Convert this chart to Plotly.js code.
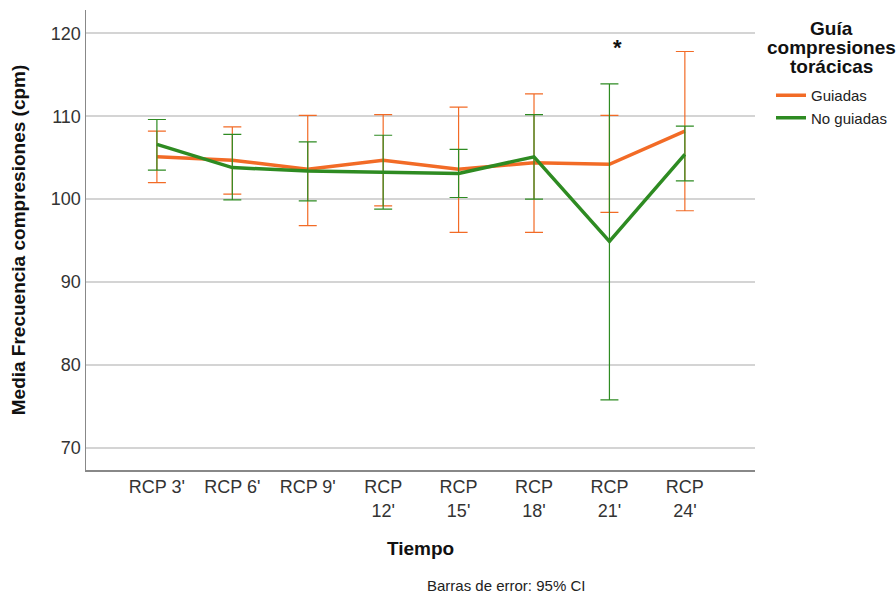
<!DOCTYPE html>
<html><head><meta charset="utf-8">
<script src="https://cdn.plot.ly/plotly-3.0.1.min.js"></script>
<style>body{margin:0;background:#fff}#c{width:896px;height:595px}</style>
</head><body><div id="c"></div>
<script>
const categories = ["RCP 3'", "RCP 6'", "RCP 9'", "RCP 12'", "RCP 15'", "RCP 18'", "RCP 21'", "RCP 24'"];
const tickLabels = ["RCP 3'", "RCP 6'", "RCP 9'", "RCP<br>12'", "RCP<br>15'", "RCP<br>18'", "RCP<br>21'", "RCP<br>24'"];
const guiadasMean  = [105.1, 104.7, 103.6, 104.7, 103.6, 104.4, 104.2, 108.2];
const guiadasUpper = [108.2, 108.7, 110.1, 110.2, 111.1, 112.7, 110.1, 117.8];
const guiadasLower = [102.0, 100.6, 96.8, 99.2, 96.0, 96.0, 98.4, 98.6];
const noGuiadasMean  = [106.6, 103.8, 103.4, 103.2, 103.1, 105.1, 94.9, 105.4];
const noGuiadasUpper = [109.6, 107.8, 106.9, 107.7, 106.0, 110.2, 113.9, 108.8];
const noGuiadasLower = [103.5, 99.9, 99.8, 98.8, 100.2, 100.0, 75.8, 102.2];
const yTicks = [70, 80, 90, 100, 110, 120];
const legendTitleLines = ['Guía', 'compresiones', 'torácicas'];

const orange = '#F26B26', green = '#2E8B22';
function trace(name, mean, up, lo, color) {
  return {
    type: 'scatter', mode: 'lines', name: name,
    x: categories, y: mean,
    line: {color: color, width: 3.5},
    error_y: {type: 'data', symmetric: false,
      array: mean.map((m, i) => up[i] - m),
      arrayminus: mean.map((m, i) => m - lo[i]),
      color: color, thickness: 1.2, width: 9}
  };
}
const data = [
  trace('Guiadas', guiadasMean, guiadasUpper, guiadasLower, orange),
  trace('No guiadas', noGuiadasMean, noGuiadasUpper, noGuiadasLower, green)
];
const font = 'Liberation Sans, Arial, sans-serif';
const W = 896, H = 595;
const L = 86, R = 755, T = 10, B = 470;
const px = x => (x - L) / (R - L);
const py = y => (B - y) / (B - T);

const annotations = [
  {x: 6, y: 118.3, xref: 'x', yref: 'y', text: '<b>*</b>', showarrow: false, xshift: 8,
   font: {size: 22, color: '#111'}},
  {x: px(506), y: py(585), xref: 'paper', yref: 'paper', xanchor: 'center', yanchor: 'middle',
   text: 'Barras de error: 95% CI', showarrow: false, font: {size: 15, color: '#222'}}
];
const titleYs = [29, 48, 67];
legendTitleLines.forEach((t, i) => annotations.push({
  x: px(831), y: py(titleYs[i]), xref: 'paper', yref: 'paper', xanchor: 'center', yanchor: 'middle',
  text: '<b>' + t + '</b>', showarrow: false, font: {size: 19, color: '#111'}
}));

const layout = {
  width: W, height: H,
  margin: {l: L, r: W - R, t: T, b: H - B},
  paper_bgcolor: '#fff', plot_bgcolor: '#fff',
  font: {family: font, color: '#222'},
  xaxis: {
    type: 'category', range: [-0.94, 7.93],
    tickmode: 'array', tickvals: categories, ticktext: tickLabels,
    tickfont: {size: 18, color: '#333'},
    showline: true, linecolor: '#888', linewidth: 1.5,
    showgrid: false, ticks: '', zeroline: false,
    title: {text: '<b>Tiempo</b>', font: {size: 19, color: '#111'}, standoff: 22}
  },
  yaxis: {
    range: [67.35, 122.8],
    tickmode: 'array', tickvals: yTicks,
    tickfont: {size: 18, color: '#333'},
    showline: true, linecolor: '#888', linewidth: 1.5,
    showgrid: true, gridcolor: '#d4d4d4', gridwidth: 1.5,
    ticks: '', zeroline: false,
    title: {text: '<b>Media Frecuencia compresiones (cpm)</b>', font: {size: 19, color: '#111'}, standoff: 20}
  },
  showlegend: true,
  legend: {
    xref: 'container', yref: 'container',
    x: 771 / W, xanchor: 'left', y: 1 - 79 / H, yanchor: 'top',
    font: {size: 15, color: '#222'},
    tracegroupgap: 0, itemwidth: 30
  },
  annotations: annotations
};
Plotly.newPlot('c', data, layout, {displayModeBar: false, staticPlot: true});
</script>
</body></html>
